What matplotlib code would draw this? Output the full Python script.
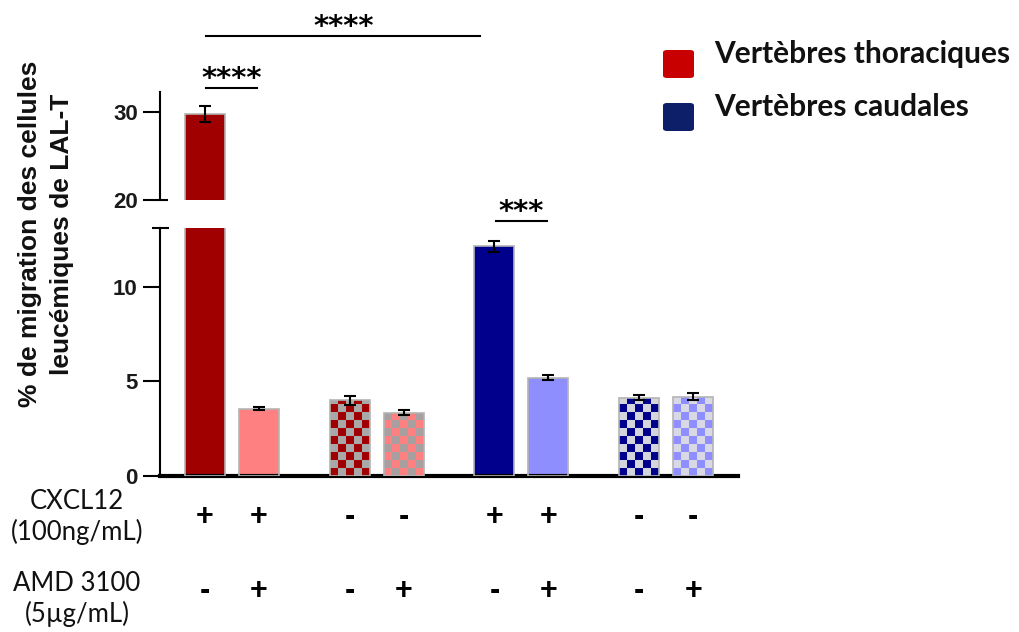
import numpy as np
import matplotlib
matplotlib.use('Agg')
import matplotlib.pyplot as plt
import matplotlib.transforms as mtransforms
from matplotlib.patches import FancyBboxPatch
from matplotlib.colors import to_rgb

# ---------------- data ----------------
cxcl12 = ['+', '+', '-', '-', '+', '+', '-', '-']
amd3100 = ['-', '+', '-', '+', '-', '+', '-', '+']
means = [29.8, 3.55, 4.0, 3.35, 12.15, 5.2, 4.15, 4.2]
sems = [0.9, 0.08, 0.25, 0.12, 0.3, 0.12, 0.13, 0.18]
legend_labels = ['Vertèbres thoraciques', 'Vertèbres caudales']
yticks_low = [0, 5, 10]
yticks_up = [20, 30]
comparisons = [(0, 1, '****'), (0, 4, '****'), (4, 5, '***')]
row_labels = ['CXCL12\n(100ng/mL)', 'AMD 3100\n(5µg/mL)']

# ---------------- style ----------------
fill_colors = ['#A00000', '#FF8080', '#A00000', '#FF8080',
               '#00008C', '#8E8EFF', '#00008C', '#8E8EFF']
checker = [False, False, True, True, False, False, True, True]
checker_colors = [None, None, '#A8A8A8', '#A8A0A0', None, None, '#D4D4DC', '#D8D8E6']
legend_colors = ['#C80000', '#0E1F6A']
edge_col = '#B4B4B4'

pos = np.array([0, 1, 2.68, 3.68, 5.36, 6.36, 8.04, 9.04])
width = 0.74
xlim = (-0.83, 9.87)
low_lim = (0, 13.12)
up_lim = (20, 32.3)

sans = ['Liberation Sans', 'DejaVu Sans']
cal = ['Lato', 'DejaVu Sans']

FW, FH = 1020, 632
fig = plt.figure(figsize=(FW / 100, FH / 100), dpi=100)
L = 160 / FW
W = 578 / FW
ax_up = fig.add_axes([L, 1 - 200 / FH, W, 108 / FH])
ax_lo = fig.add_axes([L, 1 - 476 / FH, W, 248 / FH])

for ax in (ax_up, ax_lo):
    ax.bar(pos, means, width, color=fill_colors, edgecolor='none', zorder=2)
    ax.errorbar(pos, means, yerr=sems, fmt='none', ecolor='black',
                elinewidth=1.5, capsize=4, capthick=1.5, zorder=5)
    ax.set_xlim(*xlim)
    ax.set_xticks([])
    for s in ('top', 'right'):
        ax.spines[s].set_visible(False)
    ax.spines['left'].set_linewidth(1.5)
    ax.tick_params(axis='y', length=12, width=1.5, pad=4, labelsize=16)

# checker pattern bars (lower axis)
bars_lo = ax_lo.patches
cell_y = 0.42
for i in range(len(means)):
    if not checker[i]:
        continue
    rect = bars_lo[i]
    nrows = int(np.ceil(means[i] / cell_y))
    r, c = np.indices((nrows, 5))
    c1 = np.array(to_rgb(fill_colors[i]))
    c2 = np.array(to_rgb(checker_colors[i]))
    img = np.where(((r + c) % 2 == 1)[..., None], c2, c1)
    im = ax_lo.imshow(img, extent=(pos[i] - width / 2, pos[i] + width / 2, 0, nrows * cell_y),
                      origin='lower', aspect='auto', interpolation='nearest', zorder=3)
    im.set_clip_path(rect)

# bar outlines on top
for ax in (ax_up, ax_lo):
    ax.bar(pos, means, width, fill=False, edgecolor=edge_col, linewidth=1.2, zorder=4)

ax_lo.set_xlim(*xlim)
ax_lo.set_ylim(*low_lim)
ax_up.set_ylim(*up_lim)
ax_up.spines['bottom'].set_visible(False)
ax_lo.spines['bottom'].set_linewidth(3)
ax_lo.set_yticks(yticks_low)
ax_up.set_yticks(yticks_up)
for ax in (ax_up, ax_lo):
    for lab in ax.get_yticklabels():
        lab.set_fontfamily(sans)
        lab.set_fontweight('bold')
        lab.set_color('#1a1a1a')

# break caps
tr_up = ax_up.get_yaxis_transform()
tr_lo = ax_lo.get_yaxis_transform()
ax_up.plot([0, 8 / 578], [up_lim[0], up_lim[0]], transform=tr_up, color='black', lw=1.5,
           clip_on=False, solid_capstyle='butt')
ax_lo.plot([-8 / 578, 9 / 578], [low_lim[1], low_lim[1]], transform=tr_lo, color='black', lw=1.5,
           clip_on=False, solid_capstyle='butt')

# significance
sig_axes = {(0, 1): (ax_up, 32.73, 0.0), (0, 4): (ax_up, 38.64, 0.23), (4, 5): (ax_lo, 13.49, 0.0)}
for a, b, stars in comparisons:
    ax, yv, trim = sig_axes[(a, b)]
    x0, x1 = pos[a] + 0.03, pos[b] - trim - 0.03
    ax.plot([x0, x1], [yv, yv], color='black', lw=1.5, clip_on=False)
    ax.annotate(stars, xy=((x0 + x1) / 2, yv), xytext=(0, 1), textcoords='offset points',
                ha='center', va='baseline', fontsize=21, fontweight='bold',
                family='DejaVu Sans', annotation_clip=False)

# y label
fig.text(46 / FW, 1 - 234 / FH, '% de migration des cellules\nleucémiques de LAL-T',
         rotation=90, ha='center', va='center', multialignment='center',
         fontsize=19, fontweight='bold', family=sans, linespacing=1.4, color='#111111')

# row labels and +/- signs
fig.text(77 / FW, 1 - 517 / FH, row_labels[0], ha='center', va='center', fontsize=18.5,
         family=cal, linespacing=1.25, color='#111111')
fig.text(77 / FW, 1 - 599 / FH, row_labels[1], ha='center', va='center', fontsize=18.5,
         family=cal, linespacing=1.25, color='#111111')
btr = mtransforms.blended_transform_factory(ax_lo.transData, fig.transFigure)
for i in range(len(pos)):
    ax_lo.text(pos[i], 1 - 517 / FH, cxcl12[i], transform=btr, ha='center', va='center',
               fontsize=22, fontweight='bold', family=sans, clip_on=False)
    ax_lo.text(pos[i], 1 - 591 / FH, amd3100[i], transform=btr, ha='center', va='center',
               fontsize=22, fontweight='bold', family=sans, clip_on=False)

# legend
for k, (lab, col) in enumerate(zip(legend_labels, legend_colors)):
    ytop = 50 + k * 53
    box = FancyBboxPatch((663 / FW, 1 - (ytop + 28) / FH), 31 / FW, 28 / FH,
                         boxstyle='round,pad=0,rounding_size=0.004', transform=fig.transFigure,
                         facecolor=col, edgecolor='none')
    fig.patches.append(box)
    fig.text(714 / FW, 1 - (ytop + 13) / FH, lab, ha='left', va='baseline', fontsize=21.5,
             fontweight='bold', family=cal, color='#111111')

fig.savefig('out.png', dpi=100)
